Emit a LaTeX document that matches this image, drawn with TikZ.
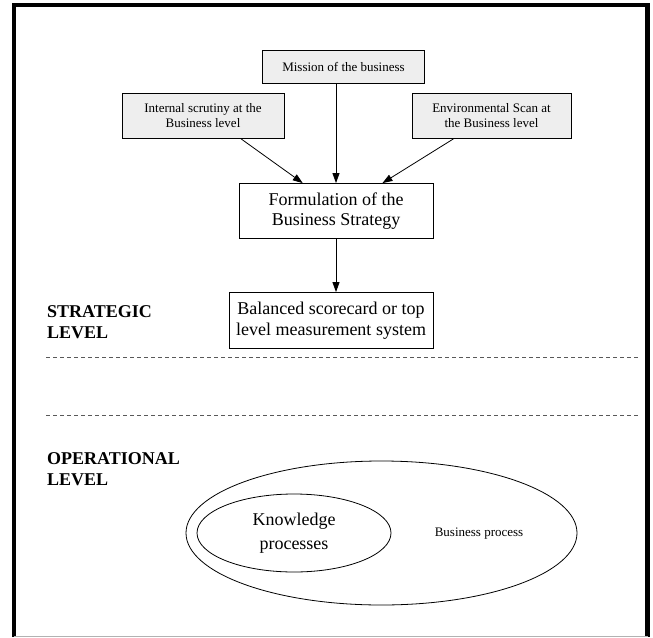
\documentclass[tikz,border=0pt]{standalone}
\usepackage{fontspec}
\setmainfont{Liberation Serif}
\usetikzlibrary{arrows.meta,shapes.geometric}

\tikzset{
  smallbox/.style={draw,fill=gray!13,line width=0.8pt,align=center,inner sep=2pt,
    font=\fontsize{13}{15}\selectfont},
  bigbox/.style={draw,fill=white,line width=0.8pt,align=center,inner sep=2pt,
    font=\fontsize{18}{20.5}\selectfont},
  levelname/.style={anchor=base west,align=left,inner sep=0pt,
    font=\fontsize{18}{20.5}\selectfont\bfseries},
  flow/.style={line width=0.8pt,-{Triangle[length=10pt,width=7pt]}},
  divider/.style={line width=0.7pt,gray!70!black,dash pattern=on 4pt off 3pt}
}

\begin{document}
\begin{tikzpicture}[x=1pt,y=-1pt]
\useasboundingbox (0,0) rectangle (653,637);
\draw[line width=4.5pt] (14,637) -- (14,5) -- (647.5,5) -- (647.5,637);
\draw[gray!60,line width=0.8pt] (14,636.3) -- (647.5,636.3);

\node[smallbox,minimum width=162pt,minimum height=33pt] (mission) at (343.5,66.5) {Mission of the business};
\node[smallbox,minimum width=162pt,minimum height=45pt] (internal) at (203,116) {Internal scrutiny at the\\Business level};
\node[smallbox,minimum width=159pt,minimum height=45pt] (env) at (491.5,116) {Environmental Scan at\\the Business level};

\node[bigbox,minimum width=194pt,minimum height=55pt] (formulation) at (336,211) {Formulation of the\\Business Strategy};
\node[bigbox,minimum width=204pt,minimum height=56pt] (scorecard) at (331,320.5) {Balanced scorecard or top\\level measurement system};

\draw[flow] (internal.-31) -- (formulation.140);
\draw[flow] (formulation.north |- mission.south) -- (formulation.north);
\draw[flow] (env.211) -- (formulation.31);
\draw[flow] (formulation.south) -- (formulation.south |- scorecard.north);

\node[levelname] (strategic) at (47,338) {STRATEGIC\\LEVEL};
\draw[divider] (46,357.5) -- (640,357.5);
\draw[divider] (46,415) -- (640,415);
\node[levelname] (operational) at (47,485) {OPERATIONAL\\LEVEL};

\node[draw,ellipse,line width=0.8pt,minimum width=391pt,minimum height=144pt,inner sep=0pt] (business) at (381.5,533) {};
\node[draw,ellipse,line width=0.8pt,minimum width=194pt,minimum height=78pt,inner sep=0pt,align=center,
  font=\fontsize{18}{24}\selectfont] (knowledge) at (294,533) {Knowledge\\processes};
\node[font=\fontsize{13}{15}\selectfont] (bptext) at (479,534) {Business process};
\end{tikzpicture}
\end{document}
